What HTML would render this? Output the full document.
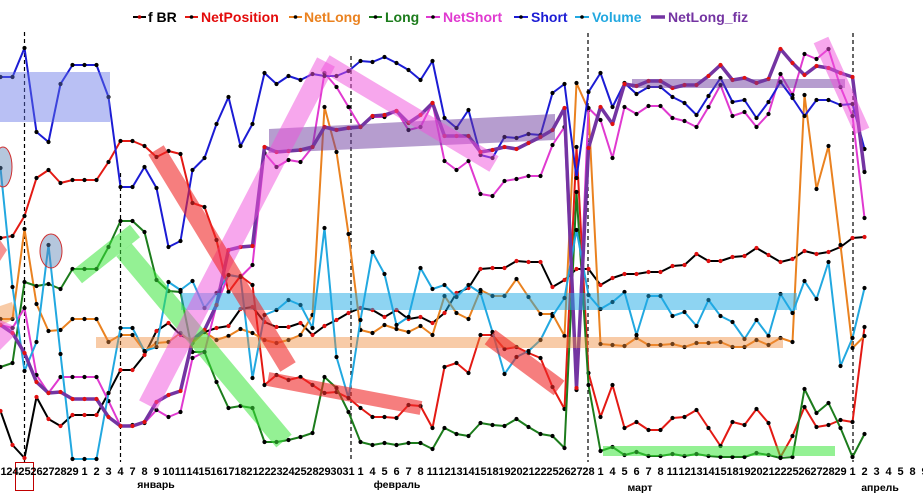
<!DOCTYPE html>
<html><head><meta charset="utf-8"><style>
html,body{margin:0;padding:0;background:#fff;}
svg{display:block;}
.lg{font-family:"Liberation Sans",sans-serif;font-weight:bold;font-size:14px;}
.tk{font-family:"Liberation Sans",sans-serif;font-weight:bold;font-size:11px;fill:#000;}
.mo{font-family:"Liberation Sans","DejaVu Sans",sans-serif;font-weight:bold;font-size:10.5px;fill:#000;}
</style></head><body>
<svg width="923" height="500" viewBox="0 0 923 500" xmlns="http://www.w3.org/2000/svg">
<defs>
<marker id="mb" markerWidth="6" markerHeight="6" refX="3" refY="3" markerUnits="userSpaceOnUse"><circle cx="3" cy="3" r="2.1" fill="#000"/></marker>
<marker id="mr" markerWidth="6" markerHeight="6" refX="3" refY="3" markerUnits="userSpaceOnUse"><circle cx="3" cy="3" r="2.1" fill="#e01010"/></marker>
</defs>
<rect width="923" height="500" fill="#fff"/>

<!-- dashed separators -->
<g stroke="#000" stroke-width="1.2" stroke-dasharray="4,3" fill="none">
<line x1="24.5" y1="32" x2="24.5" y2="462"/>
<line x1="120.5" y1="173" x2="120.5" y2="462"/>
<line x1="351" y1="56" x2="351" y2="462"/>
<line x1="588" y1="33" x2="588" y2="462"/>
<line x1="853" y1="33" x2="853" y2="462"/>
</g>

<g fill="none" stroke-linejoin="round" stroke-linecap="round">
<polyline stroke="#000" stroke-width="2" marker-start="url(#mr)" marker-mid="url(#mr)" marker-end="url(#mr)" points="0.5,411 12.5,445 24.5,458 36.5,397 48.5,419 60.5,426 72.5,415 84.5,415 96.5,415 108.5,393 120.5,370 132.5,370 144.5,355 156.5,331 168.5,323 180.5,335 192.5,341 204.5,332 216.5,328 228.5,326 240.5,309 252.5,307 264.5,322 276.5,327 288.5,327 300.5,323 312.5,335 324.5,326 336.5,320 348.5,313 360.5,308 372.5,310 384.5,317 396.5,310 408.5,319 420.5,317 432.5,323 444.5,313 456.5,293 468.5,288 480.5,269 492.5,268 504.5,268 516.5,261 528.5,262 540.5,262 552.5,287 564.5,280 576.5,269 588.5,269 600.5,285 612.5,278 624.5,274 636.5,274 648.5,272 660.5,272 672.5,266 684.5,265 696.5,254 708.5,261 720.5,261 732.5,257 744.5,256 756.5,248 768.5,255 780.5,262 792.5,259 804.5,251 816.5,254 828.5,252 840.5,247 852.5,238 864.5,237"/>
<polyline stroke="#e31a14" stroke-width="2" marker-start="url(#mb)" marker-mid="url(#mb)" marker-end="url(#mb)" points="0.5,238 12.5,236 24.5,216 36.5,178 48.5,170 60.5,183 72.5,180 84.5,180 96.5,180 108.5,162 120.5,141 132.5,141 144.5,146 156.5,157 168.5,151 180.5,154 192.5,203 204.5,207 216.5,240 228.5,292 240.5,276 252.5,285 264.5,385 276.5,375 288.5,380 300.5,377 312.5,385 324.5,393 336.5,392 348.5,398 360.5,408 372.5,417 384.5,417 396.5,418 408.5,405 420.5,406 432.5,428 444.5,367 456.5,363 468.5,373 480.5,335 492.5,335 504.5,349 516.5,347 528.5,353 540.5,358 552.5,387 564.5,409 576.5,147 588.5,373 600.5,417 612.5,385 624.5,428 636.5,422 648.5,430 660.5,430 672.5,418 684.5,417 696.5,410 708.5,428 720.5,446 732.5,422 744.5,425 756.5,409 768.5,423 780.5,457 792.5,436 804.5,407 816.5,427 828.5,425 840.5,420 852.5,422 864.5,327"/>
<polyline stroke="#ea8220" stroke-width="2" marker-start="url(#mb)" marker-mid="url(#mb)" marker-end="url(#mb)" points="0.5,319 12.5,319 24.5,229 36.5,304 48.5,331 60.5,330 72.5,319 84.5,319 96.5,319 108.5,342 120.5,335 132.5,335 144.5,351 156.5,343 168.5,342 180.5,333 192.5,343 204.5,332 216.5,340 228.5,336 240.5,329 252.5,333 264.5,340 276.5,343 288.5,340 300.5,335 312.5,315 324.5,107 336.5,152 348.5,234 360.5,330 372.5,333 384.5,325 396.5,329 408.5,332 420.5,326 432.5,335 444.5,296 456.5,313 468.5,319 480.5,290 492.5,296 504.5,296 516.5,279 528.5,297 540.5,314 552.5,314 564.5,336 576.5,83 588.5,110 600.5,344 612.5,345 624.5,346 636.5,338 648.5,345 660.5,345 672.5,344 684.5,347 696.5,343 708.5,343 720.5,342 732.5,347 744.5,347 756.5,340 768.5,345 780.5,338 792.5,342 804.5,95 816.5,189 828.5,146 840.5,245 852.5,348 864.5,336"/>
<polyline stroke="#1c7c1c" stroke-width="2" marker-start="url(#mb)" marker-mid="url(#mb)" marker-end="url(#mb)" points="0.5,367 12.5,363 24.5,282 36.5,286 48.5,284 60.5,289 72.5,269 84.5,269 96.5,269 108.5,247 120.5,221 132.5,221 144.5,232 156.5,280 168.5,291 180.5,292 192.5,352 204.5,352 216.5,382 228.5,408 240.5,406 252.5,408 264.5,442 276.5,442 288.5,440 300.5,437 312.5,433 324.5,377 336.5,388 348.5,412 360.5,442 372.5,445 384.5,443 396.5,445 408.5,443 420.5,443 432.5,449 444.5,428 456.5,434 468.5,436 480.5,423 492.5,425 504.5,426 516.5,419 528.5,427 540.5,434 552.5,436 564.5,448 576.5,192 588.5,385 600.5,451 612.5,447 624.5,455 636.5,452 648.5,456 660.5,456 672.5,454 684.5,456 696.5,454 708.5,456 720.5,457 732.5,457 744.5,457 756.5,453 768.5,455 780.5,458 792.5,457 804.5,389 816.5,413 828.5,403 840.5,428 852.5,457 864.5,434"/>
<polyline stroke="#e03ad0" stroke-width="2" marker-start="url(#mb)" marker-mid="url(#mb)" marker-end="url(#mb)" points="0.5,325 12.5,328 24.5,308 36.5,375 48.5,393 60.5,377 72.5,377 84.5,377 96.5,377 108.5,401 120.5,426 132.5,425 144.5,423 156.5,410 168.5,417 180.5,412 192.5,358 204.5,352 216.5,305 228.5,275 240.5,277 252.5,265 264.5,153 276.5,167 288.5,160 300.5,162 312.5,147 324.5,73 336.5,87 348.5,107 360.5,127 372.5,117 384.5,117 396.5,111 408.5,130 420.5,127 432.5,103 444.5,161 456.5,170 468.5,161 480.5,194 492.5,196 504.5,181 516.5,179 528.5,176 540.5,176 552.5,145 564.5,127 576.5,390 588.5,108 600.5,120 612.5,158 624.5,107 636.5,114 648.5,106 660.5,106 672.5,118 684.5,121 696.5,127 708.5,107 720.5,85 732.5,116 744.5,112 756.5,127 768.5,114 780.5,74 792.5,95 804.5,54 816.5,59 828.5,49 840.5,87 852.5,116 864.5,218"/>
<polyline stroke="#1c1cd4" stroke-width="2" marker-start="url(#mb)" marker-mid="url(#mb)" marker-end="url(#mb)" points="0.5,77 12.5,77 24.5,48 36.5,132 48.5,142 60.5,84 72.5,65 84.5,65 96.5,65 108.5,97 120.5,187 132.5,187 144.5,167 156.5,188 168.5,247 180.5,241 192.5,170 204.5,158 216.5,124 228.5,97 240.5,146 252.5,124 264.5,73 276.5,84 288.5,76 300.5,80 312.5,74 324.5,76 336.5,76 348.5,71 360.5,61 372.5,62 384.5,57 396.5,63 408.5,70 420.5,80 432.5,61 444.5,118 456.5,128 468.5,110 480.5,155 492.5,158 504.5,137 516.5,138 528.5,134 540.5,135 552.5,93 564.5,84 576.5,178 588.5,92 600.5,73 612.5,107 624.5,83 636.5,94 648.5,87 660.5,87 672.5,97 684.5,103 696.5,115 708.5,96 720.5,78 732.5,102 744.5,100 756.5,118 768.5,102 780.5,82 792.5,98 804.5,116 816.5,100 828.5,100 840.5,105 852.5,104 864.5,149"/>
<polyline stroke="#22a8e0" stroke-width="2" marker-start="url(#mb)" marker-mid="url(#mb)" marker-end="url(#mb)" points="0.5,168 12.5,287 24.5,371 36.5,342 48.5,245 60.5,354 72.5,459 84.5,459 96.5,459 108.5,393 120.5,328 132.5,328 144.5,351 156.5,347 168.5,282 180.5,290 192.5,281 204.5,308 216.5,293 228.5,275 240.5,277 252.5,378 264.5,315 276.5,310 288.5,300 300.5,305 312.5,328 324.5,228 336.5,357 348.5,398 360.5,320 372.5,252 384.5,274 396.5,325 408.5,317 420.5,268 432.5,289 444.5,285 456.5,297 468.5,285 480.5,293 492.5,332 504.5,374 516.5,357 528.5,351 540.5,340 552.5,316 564.5,298 576.5,230 588.5,295 600.5,309 612.5,302 624.5,292 636.5,335 648.5,296 660.5,296 672.5,316 684.5,312 696.5,326 708.5,300 720.5,316 732.5,322 744.5,339 756.5,320 768.5,336 780.5,294 792.5,313 804.5,281 816.5,299 828.5,262 840.5,366 852.5,338 864.5,288"/>
<polyline stroke="#7434a2" stroke-width="3.5" marker-start="url(#mr)" marker-mid="url(#mr)" marker-end="url(#mb)" points="0.5,325 12.5,333 24.5,353 36.5,382 48.5,393 60.5,392 72.5,399 84.5,399 96.5,399 108.5,417 120.5,426 132.5,426 144.5,422 156.5,402 168.5,395 180.5,391 192.5,340 204.5,330 216.5,305 228.5,250 240.5,247 252.5,246 264.5,147 276.5,152 288.5,151 300.5,150 312.5,147 324.5,127 336.5,130 348.5,128 360.5,127 372.5,116 384.5,115 396.5,111 408.5,123 420.5,115 432.5,103 444.5,136 456.5,136 468.5,136 480.5,152 492.5,150 504.5,147 516.5,149 528.5,143 540.5,137 552.5,130 564.5,108 576.5,388 588.5,148 600.5,107 612.5,124 624.5,84 636.5,86 648.5,81 660.5,81 672.5,88 684.5,85 696.5,85 708.5,76 720.5,65 732.5,80 744.5,78 756.5,83 768.5,79 780.5,49 792.5,63 804.5,75 816.5,66 828.5,68 840.5,73 852.5,77 864.5,172"/>
</g>

<!-- highlight bars -->
<g stroke="none">
<rect x="0" y="72" width="110" height="50" fill="rgba(100,115,230,0.45)"/>
<rect x="181" y="293" width="616" height="17" fill="rgba(30,170,230,0.5)"/>
<rect x="96" y="337" width="687" height="11" fill="rgba(240,140,60,0.45)"/>
<polygon points="269,129 555,114 555,140 269,153" fill="rgba(110,60,160,0.5)"/>
<rect x="632" y="79" width="213" height="9" fill="rgba(110,60,160,0.5)"/>
<rect x="603" y="446" width="232" height="10" fill="rgba(60,230,60,0.55)"/>
<polygon points="82,283.3 72,270.7 130,224.7 140,237.3" fill="rgba(60,230,60,0.55)"/>
<polygon points="116.3,256.4 131.7,243.6 291.7,434.6 276.3,447.4" fill="rgba(60,230,60,0.55)"/>
<polygon points="156.9,409.6 139.1,400.4 317.1,57.4 334.9,66.6" fill="rgba(240,80,220,0.5)"/>
<polygon points="320.4,70.7 329.6,55.3 498.6,156.3 489.4,171.7" fill="rgba(240,80,220,0.5)"/>
<polygon points="813.7,43.3 828.3,36.7 869.3,127.7 854.7,134.3" fill="rgba(240,80,220,0.5)"/>
<polygon points="148.3,154.7 163.7,145.3 295.7,362.3 280.3,371.7" fill="rgba(240,40,40,0.6)"/>
<polygon points="266.7,385.9 269.3,372.1 422.3,401.1 419.7,414.9" fill="rgba(240,40,40,0.6)"/>
<polygon points="484.7,344.2 495.4,329.8 564.4,380.8 553.7,395.2" fill="rgba(240,40,40,0.6)"/>
<polygon points="0,240 7,250 0,261" fill="rgba(240,40,40,0.5)"/>
<polygon points="0,306 12,302 16,318 0,326" fill="rgba(240,140,60,0.45)"/>
<polygon points="0,320 14,326 14,336 0,350" fill="rgba(240,80,220,0.5)"/>
</g>
<ellipse cx="3" cy="167" rx="9" ry="20" fill="rgba(90,130,180,0.45)" stroke="#d03030" stroke-width="1"/>
<ellipse cx="51" cy="251" rx="11" ry="17" fill="rgba(90,130,180,0.45)" stroke="#d03030" stroke-width="1"/>
<rect x="15.5" y="462.5" width="18" height="28" fill="none" stroke="#c00000" stroke-width="1"/>

<!-- legend -->
<g stroke-width="2">
<line x1="133" y1="17" x2="146" y2="17" stroke="#000"/><circle cx="139.5" cy="17" r="1.8" fill="#c00000"/>
<line x1="185" y1="17" x2="198" y2="17" stroke="#e31a14"/><circle cx="191.5" cy="17" r="1.8" fill="#000"/>
<line x1="289" y1="17" x2="302" y2="17" stroke="#ea8220"/><circle cx="295.5" cy="17" r="1.8" fill="#000"/>
<line x1="369" y1="17" x2="382" y2="17" stroke="#1c7c1c"/><circle cx="375.5" cy="17" r="1.8" fill="#000"/>
<line x1="426" y1="17" x2="440" y2="17" stroke="#e03ad0"/><circle cx="433" cy="17" r="1.8" fill="#000"/>
<line x1="514" y1="17" x2="528" y2="17" stroke="#1c1cd4"/><circle cx="521" cy="17" r="1.8" fill="#000"/>
<line x1="575" y1="17" x2="589" y2="17" stroke="#22a8e0"/><circle cx="582" cy="17" r="1.8" fill="#000"/>
<line x1="651" y1="17" x2="665" y2="17" stroke="#7434a2" stroke-width="3.5"/>
</g>
<text class="lg" x="148" y="22" fill="#000">f BR</text>
<text class="lg" x="201" y="22" fill="#e30b0b">NetPosition</text>
<text class="lg" x="304" y="22" fill="#ea8220">NetLong</text>
<text class="lg" x="385" y="22" fill="#1c7c1c">Long</text>
<text class="lg" x="443" y="22" fill="#e03ad0">NetShort</text>
<text class="lg" x="531" y="22" fill="#1c1cd4">Short</text>
<text class="lg" x="592" y="22" fill="#22a8e0">Volume</text>
<text class="lg" x="668" y="22" fill="#7434a2">NetLong_fiz</text>

<!-- x tick labels -->
<g class="tk" text-anchor="middle">
<text x="0.5" y="475">21</text><text x="12.5" y="475">24</text><text x="24.5" y="475">25</text><text x="36.5" y="475">26</text><text x="48.5" y="475">27</text><text x="60.5" y="475">28</text><text x="72.5" y="475">29</text>
<text x="84.5" y="475">1</text><text x="96.5" y="475">2</text><text x="108.5" y="475">3</text><text x="120.5" y="475">4</text><text x="132.5" y="475">7</text><text x="144.5" y="475">8</text><text x="156.5" y="475">9</text><text x="168.5" y="475">10</text><text x="180.5" y="475">11</text><text x="192.5" y="475">14</text><text x="204.5" y="475">15</text><text x="216.5" y="475">16</text><text x="228.5" y="475">17</text><text x="240.5" y="475">18</text><text x="252.5" y="475">21</text><text x="264.5" y="475">22</text><text x="276.5" y="475">23</text><text x="288.5" y="475">24</text><text x="300.5" y="475">25</text><text x="312.5" y="475">28</text><text x="324.5" y="475">29</text><text x="336.5" y="475">30</text><text x="348.5" y="475">31</text>
<text x="360.5" y="475">1</text><text x="372.5" y="475">4</text><text x="384.5" y="475">5</text><text x="396.5" y="475">6</text><text x="408.5" y="475">7</text><text x="420.5" y="475">8</text><text x="432.5" y="475">11</text><text x="444.5" y="475">12</text><text x="456.5" y="475">13</text><text x="468.5" y="475">14</text><text x="480.5" y="475">15</text><text x="492.5" y="475">18</text><text x="504.5" y="475">19</text><text x="516.5" y="475">20</text><text x="528.5" y="475">21</text><text x="540.5" y="475">22</text><text x="552.5" y="475">25</text><text x="564.5" y="475">26</text><text x="576.5" y="475">27</text><text x="588.5" y="475">28</text>
<text x="600.5" y="475">1</text><text x="612.5" y="475">4</text><text x="624.5" y="475">5</text><text x="636.5" y="475">6</text><text x="648.5" y="475">7</text><text x="660.5" y="475">8</text><text x="672.5" y="475">11</text><text x="684.5" y="475">12</text><text x="696.5" y="475">13</text><text x="708.5" y="475">14</text><text x="720.5" y="475">15</text><text x="732.5" y="475">18</text><text x="744.5" y="475">19</text><text x="756.5" y="475">20</text><text x="768.5" y="475">21</text><text x="780.5" y="475">22</text><text x="792.5" y="475">25</text><text x="804.5" y="475">26</text><text x="816.5" y="475">27</text><text x="828.5" y="475">28</text><text x="840.5" y="475">29</text>
<text x="852.5" y="475">1</text><text x="864.5" y="475">2</text><text x="876.5" y="475">3</text><text x="888.5" y="475">4</text><text x="900.5" y="475">5</text><text x="912.5" y="475">8</text><text x="924.5" y="475">9</text>
</g>
<g class="mo" text-anchor="middle">
<text x="156" y="488">январь</text>
<text x="397" y="488">февраль</text>
<text x="640" y="491">март</text>
<text x="880" y="491">апрель</text>
</g>
</svg>
</body></html>
